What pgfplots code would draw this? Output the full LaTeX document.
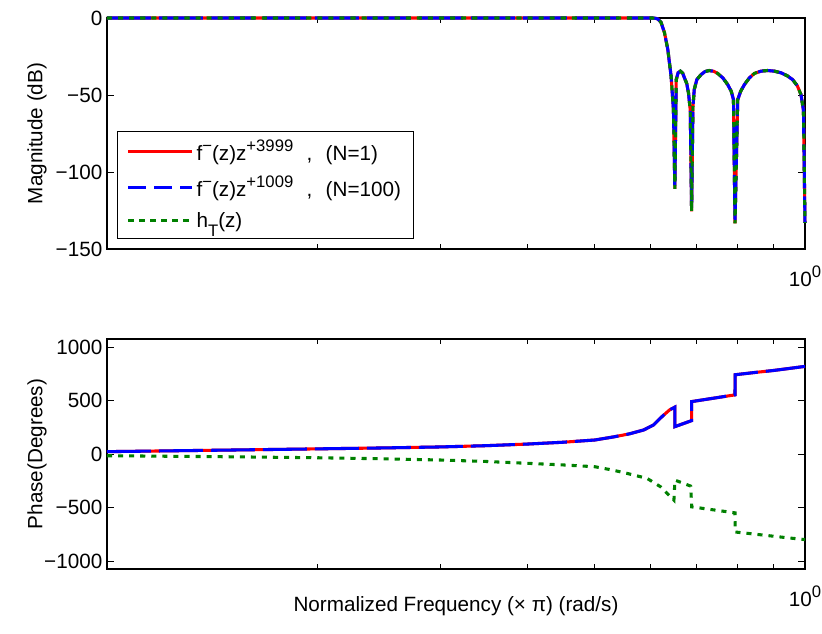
\documentclass[border=0pt]{standalone}
\usepackage{fontspec}
\setmainfont{Liberation Sans}
\usepackage{pgfplots}
\usepackage{pgfplotstable}
\pgfplotsset{compat=1.18}
\newcommand\msup[1]{\raisebox{7pt}{\fontsize{12.5pt}{14pt}\selectfont #1}}
\newcommand\msub[1]{\raisebox{-7pt}{\fontsize{12.5pt}{14pt}\selectfont #1}}

\pgfplotstableread{
f db
0.1 0
0.3 0
0.5 0
0.605 0
0.611 -0.2
0.615 -0.6
0.622 -2.8
0.629 -9.4
0.636 -20.3
0.643 -37.8
0.648 -59.6
0.651 -110.9
0.654 -40
0.658 -35.6
0.663 -34.5
0.668 -35.8
0.672 -38.9
0.677 -42.5
0.681 -48.7
0.685 -60
0.688 -125.5
0.691 -58
0.694 -46.5
0.700 -40.0
0.710 -36.7
0.719 -34.8
0.729 -34.1
0.740 -34.6
0.750 -36.0
0.763 -39.0
0.775 -43.2
0.784 -47.5
0.790 -53
0.794 -133.4
0.801 -53
0.809 -47.5
0.819 -43.2
0.832 -39.0
0.846 -36.0
0.865 -34.5
0.884 -34.1
0.904 -34.5
0.924 -35.6
0.943 -37.5
0.960 -40
0.975 -44
0.987 -49.8
0.995 -60
1.0 -133
}\magdata

\pgfplotstableread{
f ph
0.1 22
0.15 37
0.2 48
0.25 57
0.3 66
0.35 78
0.4 93
0.45 110
0.5 131
0.532 160
0.56 188
0.5875 225
0.607 272
0.624 350
0.640 413
0.651 438
0.6512 256
0.688 312
0.6882 490
0.794 553
0.7942 741
0.85 763
0.902 781
0.95 800
1.0 819
}\phdata

\pgfplotstableread{
f ph
0.1 -16
0.15 -26
0.2 -35
0.25 -45
0.3 -56
0.35 -70
0.4 -87
0.45 -102
0.5 -119
0.53 -150
0.556 -181
0.594 -228
0.621 -306
0.649 -431
0.6512 -244
0.686 -300
0.6882 -494
0.794 -550
0.7942 -729
0.85 -750
0.95 -785
1.0 -800
}\hdata

\definecolor{mgreen}{rgb}{0,0.5,0}

\begin{document}
\begin{tikzpicture}[font=\fontsize{15.5pt}{18pt}\selectfont]
\useasboundingbox (-80.25pt,-288pt) rectangle (536.25pt,186.75pt);
\begin{axis}[at={(0pt,0pt)}, anchor=south west,
  scale only axis, width=523.5pt, height=173.25pt,
  xmode=log, xmin=0.1, xmax=1,
  xtick={1}, xticklabels={10\msup{0}},
  minor xtick={0.2,0.3,0.4,0.5,0.6,0.7,0.8,0.9},
  tick align=inside, major tick length=5pt, minor tick length=3.5pt,
  axis line style={line width=0.8pt},
  every tick/.style={black, line width=0.6pt},
  xticklabel style={yshift=-9pt},
  clip=false,
  ymin=-150, ymax=0,
  ytick={-150,-100,-50,0}, yticklabels={−150,−100,−50,0},
  ylabel={Magnitude (dB)},
  y label style={at={([xshift=-52.5pt]axis description cs:0,0.5)}, anchor=center},
  legend image code/.code={\draw[#1] (0pt,0pt) -- (48pt,0pt);},
  legend style={at={(axis description cs:0,0)}, anchor=south west,
    xshift=7.7pt, yshift=8pt, draw=black, line width=0.6pt,
    inner xsep=7pt, inner ysep=4.5pt, row sep=6pt,
    cells={anchor=west}, font=\fontsize{15.5pt}{18pt}\selectfont},
]
\addplot[forget plot, red, solid, line width=2.3pt] table[x=f,y=db] {\magdata};
\addplot[forget plot, blue, line width=2.3pt, dash pattern=on 33pt off 6pt] table[x=f,y=db] {\magdata};
\addplot[forget plot, mgreen, line width=2.3pt, dash pattern=on 3.8pt off 4.5pt] table[x=f,y=db] {\magdata};
\addlegendimage{red, solid, line width=2pt}
\addlegendentry{f\msup{−}(z)z\msup{+3999}\hspace{10pt},\hspace{10pt}(N=1)}
\addlegendimage{blue, line width=2pt, dash pattern=on 13.5pt off 6pt}
\addlegendentry{f\msup{−}(z)z\msup{+1009}\hspace{10pt},\hspace{10pt}(N=100)}
\addlegendimage{mgreen, line width=2.2pt, dash pattern=on 4.1pt off 4.1pt}
\addlegendentry{h\msub{T}(z)}
\end{axis}
\begin{axis}[at={(0pt,-240pt)}, anchor=south west,
  scale only axis, width=523.5pt, height=172.5pt,
  xmode=log, xmin=0.1, xmax=1,
  xtick={1}, xticklabels={10\msup{0}},
  minor xtick={0.2,0.3,0.4,0.5,0.6,0.7,0.8,0.9},
  tick align=inside, major tick length=5pt, minor tick length=3.5pt,
  axis line style={line width=0.8pt},
  every tick/.style={black, line width=0.6pt},
  xticklabel style={yshift=-9pt},
  clip=false,
  ymin=-1075, ymax=1075,
  ytick={-1000,-500,0,500,1000}, yticklabels={−1000,−500,0,500,1000},
  ylabel={Phase(Degrees)},
  y label style={at={([xshift=-52.5pt]axis description cs:0,0.5)}, anchor=center},
  xlabel={Normalized Frequency (× π) (rad/s)},
  x label style={at={([yshift=-27.5pt]axis description cs:0.5,0)}, anchor=center},
]
\addplot[red, solid, line width=2.3pt] table[x=f,y=ph] {\phdata};
\addplot[blue, line width=2.3pt, dash pattern=on 33pt off 6pt] table[x=f,y=ph] {\phdata};
\addplot[mgreen, line width=2.3pt, dash pattern=on 3.8pt off 4.5pt] table[x=f,y=ph] {\hdata};
\end{axis}
\end{tikzpicture}
\end{document}
